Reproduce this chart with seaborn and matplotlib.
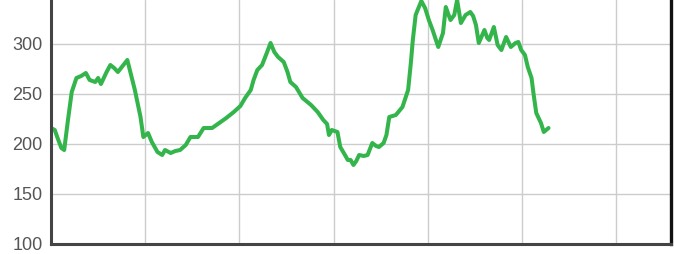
import numpy as np
import pandas as pd
import seaborn as sns
import matplotlib.pyplot as plt

# distance along the route (grid every 10 units) and elevation
distance = [0.0, 0.4, 0.7, 1.1, 1.4, 1.8, 2.2, 2.7, 3.2, 3.7,
            4.1, 4.7, 5.0, 5.3, 5.9, 6.3, 6.7, 7.1, 7.6, 8.1,
            8.5, 8.9, 9.5, 9.8, 10.3, 10.7, 11.3, 11.8, 12.1, 12.7,
            13.2, 13.7, 14.3, 14.8, 15.6, 16.2, 17.1, 18.0, 18.6, 19.4,
            20.1, 20.6, 21.2, 21.5, 21.9, 22.4, 22.9, 23.3, 23.7, 24.1,
            24.7, 25.1, 25.4, 26.0, 26.7, 27.6, 28.3, 28.9, 29.3, 29.5,
            29.8, 30.4, 30.7, 31.2, 31.5, 31.8, 32.1, 32.4, 32.7, 33.2,
            33.6, 34.1, 34.5, 34.8, 35.3, 35.6, 35.9, 36.6, 37.3, 37.9,
            38.2, 38.4, 38.7, 39.3, 39.7, 40.1, 40.5, 41.1, 41.6, 41.9,
            42.2, 42.4, 42.8, 43.1, 43.5, 44.0, 44.5, 44.8, 45.1, 45.4,
            46.0, 46.3, 46.5, 47.0, 47.4, 47.8, 48.3, 48.8, 49.3, 49.6,
            49.9, 50.3, 50.6, 51.0, 51.2, 51.5, 52.0, 52.3, 52.8]
elevation = [216, 214, 206, 196, 194, 224, 252, 266, 268, 271,
             264, 262, 266, 260, 272, 279, 276, 272, 278, 284,
             269, 254, 227, 207, 211, 202, 192, 189, 194, 191,
             193, 194, 199, 207, 207, 216, 216, 222, 226, 232,
             238, 246, 254, 264, 274, 279, 291, 301, 292, 287,
             282, 272, 262, 257, 246, 239, 232, 224, 220, 209,
             214, 212, 197, 189, 184, 184, 179, 183, 189, 188,
             189, 201, 198, 197, 201, 209, 227, 229, 237, 254,
             282, 304, 329, 343, 336, 324, 314, 297, 311, 337,
             329, 324, 329, 344, 321, 329, 332, 328, 319, 301,
             314, 306, 304, 317, 299, 294, 307, 297, 301, 302,
             294, 289, 277, 266, 251, 231, 221, 212, 216]

y_ticks = [100, 150, 200, 250, 300]

df = pd.DataFrame({"distance": distance, "elevation": elevation})

sns.set_style("whitegrid")
plt.rcParams['font.family'] = ['Liberation Sans', 'DejaVu Sans']

fig = plt.figure(figsize=(6.74, 2.54), dpi=100)
ax = fig.add_axes([51 / 674, 10 / 254, 620 / 674, 244 / 254])

sns.lineplot(data=df, x="distance", y="elevation", color="#33b54c", linewidth=2.9, ax=ax)

ax.set_xlim(0, 65.8)
ax.set_ylim(100, 344)
ax.set_xticks([10, 20, 30, 40, 50, 60])
ax.set_yticks(y_ticks)
ax.set_xlabel("")
ax.set_ylabel("")
ax.tick_params(axis="x", labelbottom=False, length=0)
ax.tick_params(axis="y", length=0, pad=6, labelsize=13, labelcolor="#555555")
ax.grid(True, color="#cccccc", linewidth=1.0)

ax.spines["top"].set_visible(False)
ax.spines["left"].set_color("#444444")
ax.spines["left"].set_linewidth(2.2)
ax.spines["bottom"].set_color("#444444")
ax.spines["bottom"].set_linewidth(2.2)
ax.spines["right"].set_color("#111111")
ax.spines["right"].set_linewidth(2.4)

fig.savefig("out.png", dpi=100)
